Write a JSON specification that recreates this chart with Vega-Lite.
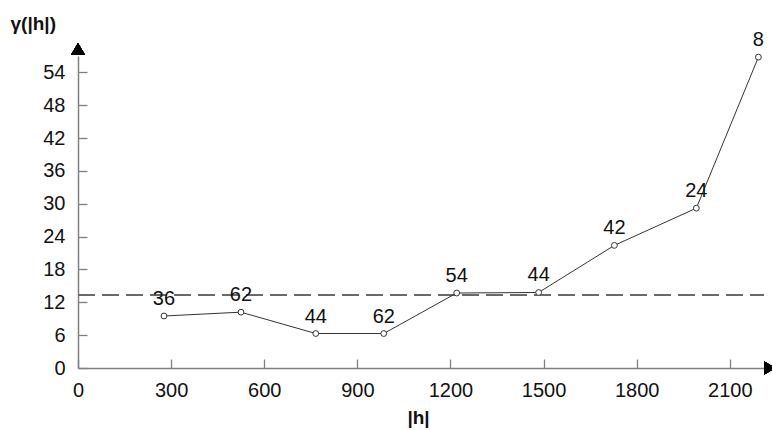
{
  "$schema": "https://vega.github.io/schema/vega-lite/v6.json",
  "width": 686,
  "height": 312,
  "autosize": {"type": "none"},
  "padding": {"left": 78, "top": 56, "right": 8, "bottom": 62},
  "background": "white",
  "config": {
    "view": {"stroke": null},
    "font": "Liberation Sans",
    "axis": {"grid": false, "labelFlush": false, "domainColor": "#808080", "domainWidth": 1.5, "tickColor": "#808080", "tickWidth": 1.3, "tickSize": -9, "labelFont": "Liberation Sans", "labelFontSize": 20, "labelColor": "#111", "titleFont": "Liberation Sans", "titleColor": "#111", "titleFontWeight": "bold", "titleFontSize": 19}
  },
  "data": {
    "values": [
      {"h": 277, "g": 9.5, "n": "36"},
      {"h": 525, "g": 10.2, "n": "62"},
      {"h": 766, "g": 6.3, "n": "44"},
      {"h": 985, "g": 6.3, "n": "62"},
      {"h": 1220, "g": 13.7, "n": "54"},
      {"h": 1484, "g": 13.8, "n": "44"},
      {"h": 1728, "g": 22.4, "n": "42"},
      {"h": 1992, "g": 29.2, "n": "24"},
      {"h": 2192, "g": 56.8, "n": "8"}
    ]
  },
  "encoding": {
    "x": {"field": "h", "type": "quantitative", "scale": {"domain": [0, 2210], "nice": false, "zero": false},
      "axis": {"values": [0, 300, 600, 900, 1200, 1500, 1800, 2100], "format": "d", "labelPadding": 21, "title": "|h|", "titleX": 340, "titleY": 49, "titleBaseline": "middle"}},
    "y": {"field": "g", "type": "quantitative", "scale": {"domain": [0, 57], "nice": false},
      "axis": {"values": [0, 6, 12, 18, 24, 30, 36, 42, 48, 54], "labelPadding": 22, "title": "γ(|h|)", "titleAngle": 0, "titleAlign": "left", "titleBaseline": "middle", "titleX": -68, "titleY": -33}}
  },
  "layer": [
    {"mark": {"type": "rule", "color": "#6a6a6a", "strokeDash": [17, 7], "strokeWidth": 1.3}, "encoding": {"x": {"datum": 0}, "x2": {"datum": 2210}, "y": {"datum": 13.3}}},
    {"mark": {"type": "line", "color": "#333", "strokeWidth": 1}},
    {"mark": {"type": "point", "shape": "circle", "filled": false, "color": "#333", "size": 34, "strokeWidth": 1, "fill": "white", "opacity": 1}},
    {"mark": {"type": "text", "dy": -17, "fontSize": 20, "color": "#111", "baseline": "middle"}, "encoding": {"text": {"field": "n"}}},
    {"mark": {"type": "point", "shape": "triangle-up", "filled": true, "color": "black", "size": 200, "yOffset": -7, "opacity": 1}, "encoding": {"x": {"datum": 0}, "y": {"datum": 57}}},
    {"mark": {"type": "point", "shape": "triangle-right", "filled": true, "color": "black", "size": 170, "xOffset": 6, "opacity": 1}, "encoding": {"x": {"datum": 2210}, "y": {"datum": 0}}}
  ]
}
